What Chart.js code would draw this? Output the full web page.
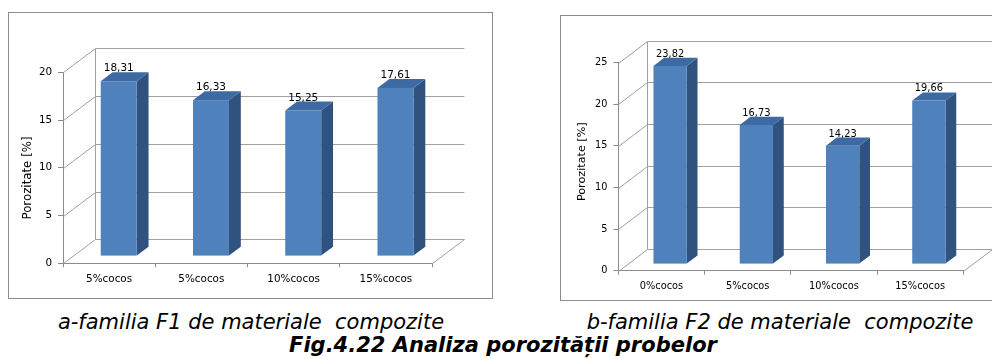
<!DOCTYPE html>
<html>
<head>
<meta charset="utf-8">
<script src="https://cdn.jsdelivr.net/npm/chart.js@4"></script>
<style>
  html, body { margin: 0; padding: 0; background: #fff; width: 992px; height: 359px; overflow: hidden; position: relative; font-family: 'DejaVu Sans', sans-serif; }
  .frame { position: absolute; box-sizing: border-box; border: 1px solid #8c8c8c; }
  .holder { position: absolute; }
  .cap { position: absolute; white-space: pre; font-style: italic; line-height: 1; color: #000; transform: translate(-50%, -50%); }
</style>
</head>
<body>
<div class="frame" style="left:8px;top:12px;width:485px;height:287px;"></div>
<div class="frame" style="left:560px;top:15px;width:500px;height:286px;"></div>
<div class="holder" style="left:8px;top:12px;"><canvas id="chartF1" width="484" height="286"></canvas></div>
<div class="holder" style="left:560px;top:15px;"><canvas id="chartF2" width="460" height="285"></canvas></div>
<div class="cap" style="left:251px;top:322px;font-size:21px;">a-familia F1 de materiale  compozite</div>
<div class="cap" style="left:780px;top:322px;font-size:21px;">b-familia F2 de materiale  compozite</div>
<div class="cap" style="left:503px;top:345px;font-size:21px;font-weight:bold;">Fig.4.22 Analiza porozității probelor</div>

<script>
// Porosity per sample, family F1
const categoriesF1 = ['5%cocos', '5%cocos', '10%cocos', '15%cocos'];
const porosityF1 = [18.31, 16.33, 15.25, 17.61];
const yTicksF1 = [0, 5, 10, 15, 20];

// Porosity per sample, family F2
const categoriesF2 = ['0%cocos', '5%cocos', '10%cocos', '15%cocos'];
const porosityF2 = [23.82, 16.73, 14.23, 19.66];
const yTicksF2 = [0, 5, 10, 15, 20, 25];

const axisTitle = 'Porozitate [%]';

const fmt = v => v.toFixed(2).replace('.', ',');

// Draws the walls/floor of a 3-D plot box and the columns as prisms
const prism3d = {
  id: 'prism3d',
  beforeDatasetsDraw(chart, _args, o) {
    const { ctx, chartArea: a, scales: { y } } = chart;
    const [dx, dy] = o.depth;
    const y0 = Math.round(y.getPixelForValue(y.min)) + 0.5;
    const yT = Math.round(y.getPixelForValue(y.max)) + 0.5;
    const L = Math.round(a.left) + 0.5, R = Math.round(a.right) + 0.5;
    ctx.save();
    ctx.strokeStyle = o.wallColor;
    ctx.lineWidth = 1;
    ctx.beginPath();
    y.ticks.forEach(t => {
      const py = Math.round(y.getPixelForValue(t.value)) + 0.5;
      ctx.moveTo(L, py);
      ctx.lineTo(L + dx, py + dy);
      ctx.lineTo(R + dx, py + dy);
    });
    ctx.moveTo(L + dx, yT + dy);
    ctx.lineTo(L + dx, y0 + dy);
    ctx.moveTo(R, y0);
    ctx.lineTo(R + dx, y0 + dy);
    ctx.stroke();

    // rotated axis title
    ctx.translate(o.titleAt[0], o.titleAt[1]);
    ctx.rotate(-Math.PI / 2);
    ctx.fillStyle = '#000';
    ctx.font = o.titleSize + 'px "DejaVu Sans"';
    ctx.textAlign = 'center';
    ctx.textBaseline = 'middle';
    ctx.fillText(o.title, 0, 0);
    ctx.restore();
  },
  afterDatasetsDraw(chart, _args, o) {
    const { ctx } = chart;
    const meta = chart.getDatasetMeta(0);
    const values = chart.data.datasets[0].data;
    const [Dx, Dy] = o.depth;
    const fx = Dx * o.front, fy = Dy * o.front;
    const bx = Dx * o.thick, by = Dy * o.thick;
    ctx.save();
    meta.data.forEach((bar, i) => {
      const { x, y, base, width } = bar.getProps(['x', 'y', 'base', 'width'], true);
      const l = x - width / 2 + fx, r = x + width / 2 + fx;
      const t = y + fy, b = base + fy;
      // side face
      ctx.fillStyle = o.sideColor;
      ctx.beginPath();
      ctx.moveTo(r, t); ctx.lineTo(r + bx, t + by); ctx.lineTo(r + bx, b + by); ctx.lineTo(r, b);
      ctx.closePath(); ctx.fill();
      // top face
      ctx.fillStyle = o.topColor;
      ctx.beginPath();
      ctx.moveTo(l, t); ctx.lineTo(l + bx, t + by); ctx.lineTo(r + bx, t + by); ctx.lineTo(r, t);
      ctx.closePath(); ctx.fill();
      // front face
      ctx.fillStyle = o.frontColor;
      ctx.fillRect(l, t, r - l, b - t);
      // value label
      ctx.fillStyle = '#000';
      ctx.font = o.labelSize + 'px "DejaVu Sans"';
      ctx.textAlign = 'center';
      ctx.textBaseline = 'alphabetic';
      ctx.fillText(fmt(values[i]), x + fx, t + by - 1);
    });
    ctx.restore();
  }
};

function build(id, labels, values, yTicks, g) {
  const axisColor = '#8c8c8c';
  return new Chart(document.getElementById(id), {
    type: 'bar',
    data: {
      labels,
      datasets: [{
        data: values,
        backgroundColor: 'rgba(0,0,0,0)',
        borderWidth: 0,
        barPercentage: g.barPct,
        categoryPercentage: 1
      }]
    },
    plugins: [prism3d],
    options: {
      responsive: false,
      animation: false,
      events: [],
      layout: { padding: { top: g.top, right: g.right, bottom: 0, left: 0 } },
      plugins: {
        legend: { display: false },
        tooltip: { enabled: false },
        prism3d: {
          depth: g.depth, front: 0.3, thick: 0.37,
          wallColor: '#a0a0a0',
          frontColor: '#4f81bd', topColor: '#3d6aa3', sideColor: '#30527f',
          labelSize: g.labelSize, title: axisTitle, titleSize: g.titleSize, titleAt: g.titleAt
        }
      },
      scales: {
        x: {
          grid: { drawOnChartArea: false, tickLength: 4, color: axisColor, offset: true },
          border: { color: axisColor },
          ticks: { color: '#000', font: { family: 'DejaVu Sans', size: g.catSize }, padding: 6, maxRotation: 0 },
          afterFit(s) { s.height = g.xh; }
        },
        y: {
          min: yTicks[0],
          max: yTicks[yTicks.length - 1],
          ticks: { stepSize: yTicks[1] - yTicks[0], color: '#000', font: { family: 'DejaVu Sans', size: g.tickSize }, padding: 6 },
          grid: { drawOnChartArea: false, tickLength: 5, color: axisColor },
          border: { color: axisColor },
          afterFit(s) { s.width = g.yw; }
        }
      }
    }
  });
}

build('chartF1', categoriesF1, porosityF1, yTicksF1, {
  top: 60.3, right: 60, xh: 34.7, yw: 55, barPct: 0.39,
  depth: [32, -24], labelSize: 10.5, catSize: 10.4, tickSize: 10.3,
  titleSize: 11.8, titleAt: [20, 166]
});

build('chartF2', categoriesF2, porosityF2, yTicksF2, {
  top: 47.7, right: 56.7, xh: 29.3, yw: 58.3, barPct: 0.386,
  depth: [29, -22], labelSize: 9.8, catSize: 9.8, tickSize: 9.7,
  titleSize: 11.2, titleAt: [22.3, 146.7]
});
</script>
</body>
</html>
